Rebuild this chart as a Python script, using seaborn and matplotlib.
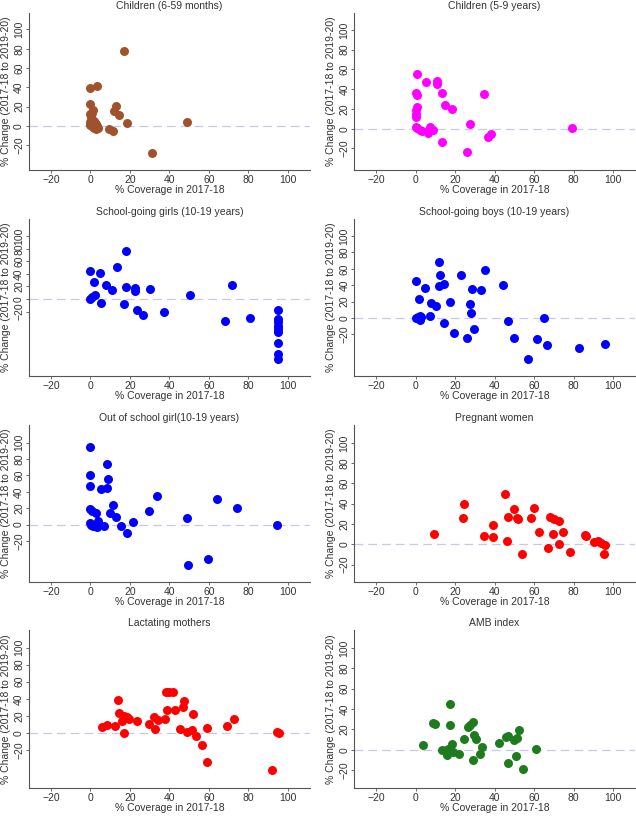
import numpy as np
import pandas as pd
import matplotlib
matplotlib.use("Agg")
import matplotlib.pyplot as plt
import seaborn as sns

# Panel titles and colours
titles = ["Children (6-59 months)", "Children (5-9 years)",
          "School-going girls (10-19 years)", "School-going boys (10-19 years)",
          "Out of school girl(10-19 years)", "Pregnant women",
          "Lactating mothers", "AMB index"]
colors = ["#A0522D", "#FF00FF", "#0000FF", "#0000FF",
          "#0000FF", "#FF0000", "#FF0000", "#1E7B1E"]

# Children (6-59 months)
child_659_x = [17, 0, 3.5, 0, 1.5, 13, 12, 14.5, 18.5, 49, 31, 9.5, 11.5,
               0, 0.5, 1, 0, 0.5, 1, 1.5, 2, 2.5, 3, 3.5, 4, 3, 2, 0, 1, 2]
child_659_y = [78, 39, 41, 23, 16.5, 21, 15, 11.7, 2.5, 4.5, -28, -2.8, -5,
               12, 9, 6, 4, 2, 0, -1, 1, 3, 2, 0, -2, -3, -2, 1, 13, 5]

# Children (5-9 years)
child_59_x = [0.9, 5.5, 10.9, 11, 0, 0.7, 13.3, 34.8, 15, 18.6, 0.7, 0, 0, 0,
              0, 0.7, 2, 3.4, 6.3, 7.5, 9, 6.3, 27.4, 38, 36.8, 13.3, 26.2, 79.4]
child_59_y = [55, 47.3, 48, 45.6, 36, 34, 36, 35.6, 24, 19.5, 22, 19, 15, 12,
              1.7, 0.3, -1, -2.3, -4, 2, -1.3, -2, 5, -5.4, -8, -13, -24, 1]

# School-going girls (10-19 years)
girls_x = [18.2, 13.6, 0, 4.6, 1.7, 7.8, 11, 18.2, 22.6, 22.4, 30.1, 50.2,
           71.6, 2.2, 0.9, 0, 5.1, 17, 23.5, 26.4, 37.2, 68.4, 80.6,
           95, 95, 95, 95, 95, 95, 95, 95, 95]
girls_y = [77, 51, 44, 41.5, 26.6, 22.9, 14.9, 19.7, 17, 12.8, 15.4, 6.9,
           22.9, 6.9, 3.7, 0, -5.9, -8.5, -18, -25, -20, -35, -31,
           -18, -32, -37, -42.5, -48, -53, -70, -88, -96]

# School-going boys (10-19 years)
boys_x = [11.8, 12.3, 35.4, 22.9, 0, 4.8, 12, 14.5, 44.4, 28.4, 33.3, 1.5,
          7.7, 10.3, 17.6, 27.7, 28, 7.2, 0, 2, 2.9, 1.2, 2, 46.8, 14.5,
          29.4, 19.5, 26.2, 49.9, 61.4, 65.1, 66.5, 82.7, 95.9, 57.1]
boys_y = [68.3, 53, 59, 52, 45, 37, 39, 42, 40, 35, 34, 23.6,
          18.3, 15, 19.5, 17.5, 6, 2, 0, 2.4, 0.8, 1.2, -2.4, -3.3, -6,
          -14, -18, -25, -24, -25.6, 0, -33.7, -36.6, -32.5, -50]

# Out of school girl (10-19 years)
oos_x = [0, 8.4, 0, 8.8, 0, 5.4, 8.4, 33.8, 11.5, 0, 0.8, 2.7, 10.1, 13,
         29.6, 63.9, 74.3, 49, 21.8, 0, 0.3, 1.7, 3.9, 3.4, 6.8, 1.4,
         15.5, 18.6, 94.6, 59.8, 49.5]
oos_y = [94.7, 74, 60, 56, 47, 43, 45, 35, 23.5, 19.4, 16.6, 13.8, 14.6, 9.3,
         17, 30.8, 20.6, 7.7, 2.8, 2.4, -0.4, -0.4, 4.5, -2.8, -2.4, -1.6,
         -1.6, -10, 0, -41.7, -49.8]

# Pregnant women
preg_x = [9.2, 24.5, 24, 34.4, 39, 39, 45.1, 46.8, 46.2, 50, 51.3, 52, 54,
          60.1, 58.6, 62.7, 68.1, 70.2, 72.7, 69.5, 74.6, 72.4, 66.9, 78.4,
          85.7, 86.4, 90.5, 92.3, 94, 95.7, 95.6]
preg_y = [10.4, 39.7, 26.4, 7.8, 18.9, 7.5, 49.8, 27.4, 2.9, 35.2, 25.7, 25.4,
          -9.8, 35.5, 26, 12, 26.7, 25.4, 22.5, 9.8, 11.7, 0.3, -3.6, -7.2,
          9.1, 7.8, 2, 2.9, 1.3, -0.3, -9.1]

# Lactating mothers
lact_x = [5.6, 8.2, 12.2, 13.9, 14.6, 17, 16, 17, 18.7, 19.6, 23.8, 29.6,
          32.1, 32.7, 34, 37.8, 38.4, 39.6, 41.7, 39, 42.9, 47.4, 47.1, 45.2,
          52, 51.5, 49, 53.6, 56.5, 59.2, 58.8, 69, 72.8, 94.6, 95.6, 91.8]
lact_y = [7, 9.7, 7.8, 38.8, 23.3, 20.2, 13.6, 0, 18.6, 16.7, 14.3, 10.5,
          18.6, 4.7, 14.7, 16.3, 47.7, 47.7, 47.7, 27, 27, 37.6, 30.2, 4.3,
          22, 3.9, 0.8, -3.5, -14.7, 5.8, -34, 7.8, 16.7, 0.8, 0, -43.8]

# AMB index
amb_x = [3.6, 9, 10, 17.5, 17.4, 18.6, 13.5, 16.5, 15.8, 19.1, 22.1, 24.4,
         26.7, 27.3, 29.3, 29.6, 30.7, 32.4, 33.7, 29, 42.4, 45.8, 46.8,
         46.8, 49.7, 51.4, 52.3, 50.9, 54.3, 60.8]
amb_y = [4.5, 26.2, 25.6, 45, 24.6, 6.1, -0.3, 1, -5.5, -2.3, -4.5, 10.7,
         22, 24.6, 27.2, 14.9, 11, -4.5, 2.9, -10, 6.8, 12.3, 13.3,
         -13.3, 9.4, 12, 19.1, -6.1, -19.1, 1]

panel_x = [child_659_x, child_59_x, girls_x, boys_x, oos_x, preg_x, lact_x, amb_x]
panel_y = [child_659_y, child_59_y, girls_y, boys_y, oos_y, preg_y, lact_y, amb_y]
ylims = [(-46, 117), (-42, 117), (-123, 128), (-71, 121),
         (-70, 122), (-37, 118), (-64, 120), (-37, 117)]

sns.set_style("white")
plt.rcParams["font.family"] = ["Liberation Sans", "DejaVu Sans"]
plt.rcParams["font.size"] = 7.5

fig, axes = plt.subplots(4, 2, figsize=(6.36, 8.17), dpi=100)
fig.subplots_adjust(left=0.046, right=0.998, top=0.984, bottom=0.036,
                    wspace=0.16, hspace=0.31)

text_col = "#333333"
for i, ax in enumerate(axes.flat):
    df = pd.DataFrame({"cov": panel_x[i], "chg": panel_y[i]})
    ax.axhline(0, color="#C8C8EA", lw=0.9, ls=(0, (7, 4)), zorder=1)
    sns.scatterplot(data=df, x="cov", y="chg", ax=ax, color=colors[i],
                    s=42, linewidth=0, zorder=3)
    ax.set_xlim(-31, 111)
    ax.set_ylim(*ylims[i])
    ax.set_xticks(np.arange(-20, 101, 20))
    ax.set_yticks(np.arange(-20, 101, 20))
    ax.set_title(titles[i], fontsize=7.5, color=text_col, pad=3)
    ax.set_xlabel("% Coverage in 2017-18", fontsize=7.5, color=text_col, labelpad=0)
    ax.set_ylabel("% Change (2017-18 to 2019-20)", fontsize=7.5, color=text_col)
    ax.yaxis.set_label_coords(-0.064, 0.5)
    for s in ["top", "right"]:
        ax.spines[s].set_visible(False)
    for s in ["left", "bottom"]:
        ax.spines[s].set_color("#555555")
        ax.spines[s].set_linewidth(0.8)
    ax.tick_params(axis="both", length=2.5, width=0.6, color="#555555",
                   labelcolor=text_col, labelsize=7.5, pad=1.2,
                   bottom=True, left=True)
    for lab in ax.get_yticklabels():
        lab.set_rotation(90)
        lab.set_va("center")

fig.savefig("out.png", dpi=100)
